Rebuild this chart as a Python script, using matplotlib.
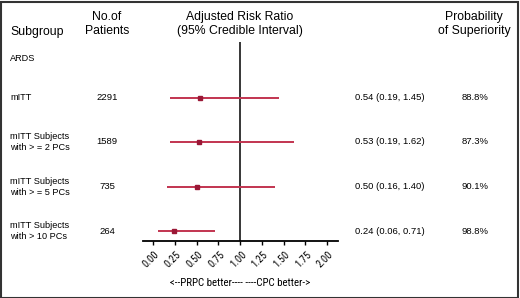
import matplotlib
matplotlib.use("Agg")
import matplotlib.pyplot as plt
import matplotlib.transforms as mtrans
from matplotlib.patches import Rectangle

subgroups = ["mITT", "mITT Subjects\nwith > = 2 PCs", "mITT Subjects\nwith > = 5 PCs", "mITT Subjects\nwith > 10 PCs"]
patients = ["2291", "1589", "735", "264"]
estimates = [0.54, 0.53, 0.50, 0.24]
lower = [0.19, 0.19, 0.16, 0.06]
upper = [1.45, 1.62, 1.40, 0.71]
prob_sup = ["88.8%", "87.3%", "90.1%", "98.8%"]
ticks = [0.0, 0.25, 0.5, 0.75, 1.0, 1.25, 1.5, 1.75, 2.0]
tick_labels = ["0.00", "0.25", "0.50", "0.75", "1.00", "1.25", "1.50", "1.75", "2.00"]

main_font = ["Liberation Sans", "DejaVu Sans"]
narrow = ["Roboto Condensed", "Liberation Sans", "DejaVu Sans"]
plt.rcParams["font.family"] = main_font

W, H = 520, 298
fig = plt.figure(figsize=(W / 100, H / 100), dpi=100)

def fx(px):
    return px / W

def fy(py):
    return 1 - py / H

ax = fig.add_axes([fx(143), fy(240.7), fx(338) - fx(143), fy(42) - fy(240.7)])
ax.set_xlim(-0.115, 2.125)
n = len(subgroups)
ys = list(range(n, 0, -1))
row_h = 44.5
ax.set_ylim(1 - 9.7 / row_h, n + (97.7 - 42) / row_h)

line_col = "#c23450"
mark_col = "#9a1836"
for y, e, lo, hi in zip(ys, estimates, lower, upper):
    ax.plot([lo, hi], [y, y], color=line_col, lw=1.4, solid_capstyle="butt", zorder=2)
    ax.plot([e], [y], marker="s", ms=3.0, color=mark_col, mec=mark_col, zorder=3)
ax.axvline(1.0, color="black", lw=1.1, zorder=1)

for s in ["top", "right", "left"]:
    ax.spines[s].set_visible(False)
ax.spines["bottom"].set_linewidth(1.3)
ax.set_yticks([])
ax.set_xticks(ticks)
ax.set_xticklabels(tick_labels, rotation=45, ha="center", fontsize=7.5, family=narrow)
ax.tick_params(axis="x", length=3, width=1, pad=3)
shift = mtrans.ScaledTranslation(-2 / 100, 0, fig.dpi_scale_trans)
for lab in ax.get_xticklabels():
    lab.set_transform(lab.get_transform() + shift)
ax.set_xlabel("<--PRPC better---- ----CPC better->", fontsize=7.8, family=narrow, labelpad=6)

hs = 8.8
fig.text(fx(10), fy(32), "Subgroup", fontsize=hs, ha="left", va="center")
fig.text(fx(107), fy(24), "No.of\nPatients", fontsize=hs, ha="center", va="center", linespacing=1.3)
fig.text(fx(240), fy(24), "Adjusted Risk Ratio\n(95% Credible Interval)", fontsize=hs, ha="center", va="center", linespacing=1.3)
fig.text(fx(474), fy(24), "Probability\nof Superiority", fontsize=hs, ha="center", va="center", linespacing=1.3)

fig.text(fx(10), fy(58), "ARDS", fontsize=6.6, ha="left", va="center")

row_px = [97.7, 142, 186.7, 231]
for py, sg, npt, e, lo, hi, p in zip(row_px, subgroups, patients, estimates, lower, upper, prob_sup):
    fig.text(fx(10), fy(py), sg, fontsize=6.6, ha="left", va="center", linespacing=1.25)
    fig.text(fx(107), fy(py), npt, fontsize=6.8, ha="center", va="center")
    fig.text(fx(390), fy(py), f"{e:.2f} ({lo:.2f}, {hi:.2f})", fontsize=6.8, ha="center", va="center")
    fig.text(fx(475), fy(py), p, fontsize=6.8, ha="center", va="center")

fig.patches.append(Rectangle((0.5 / W, 0.5 / H), 1 - 2.5 / W, 1 - 2 / H, transform=fig.transFigure,
                             fill=False, edgecolor="#333333", lw=1.5))

fig.savefig("out.png", dpi=100)
